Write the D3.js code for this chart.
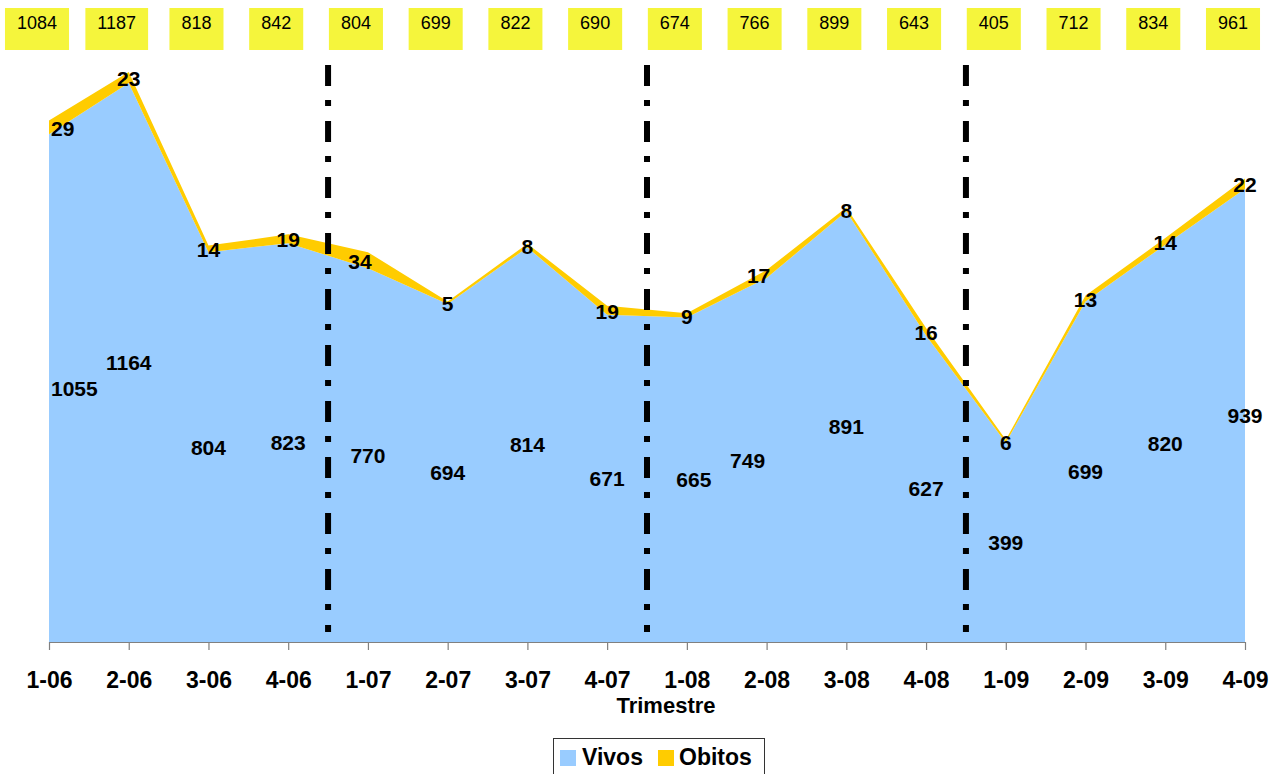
<!DOCTYPE html>
<html>
<head>
<meta charset="utf-8">
<script src="https://cdn.jsdelivr.net/npm/d3@7"></script>
<style>
  html, body { margin: 0; padding: 0; background: #fff; }
  svg { display: block; font-family: Arial, "Liberation Sans", sans-serif; }
</style>
</head>
<body>
<svg id="chart" width="1280" height="774"></svg>
<script>
// ---- data ----
const categories = ["1-06","2-06","3-06","4-06","1-07","2-07","3-07","4-07","1-08","2-08","3-08","4-08","1-09","2-09","3-09","4-09"];
const vivos  = [1055,1164,804,823,770,694,814,671,665,749,891,627,399,699,820,939];
const obitos = [29,23,14,19,34,5,8,19,9,17,8,16,6,13,14,22];
const totals = [1084,1187,818,842,804,699,822,690,674,766,899,643,405,712,834,961];
const seriesNames = ["Vivos","Obitos"];
const separatorsAfter = ["4-06","4-07","4-08"];
const axisTitle = "Trimestre";

// ---- layout ----
const W = 1280, H = 774;
const plotLeft = 49, plotRight = 1245, plotTop = 66, plotBottom = 642;
const colors = { Vivos: "#99CCFF", Obitos: "#FFCC00" };

const svg = d3.select("#chart");

const x = d3.scalePoint().domain(categories).range([plotLeft, plotRight]);
const y = d3.scaleLinear().domain([-25, 1200]).range([plotBottom, plotTop]);

const rows = categories.map((c, i) => ({ cat: c, Vivos: vivos[i], Obitos: obitos[i] }));
const stack = d3.stack().keys(seriesNames);
const series = stack(rows);

const area = d3.area()
  .x(d => x(d.data.cat))
  .y0(d => d[0] === 0 ? y.range()[0] : y(d[0]))
  .y1(d => y(d[1]));

svg.append("g").selectAll("path")
  .data(series)
  .join("path")
  .attr("d", area)
  .attr("fill", d => colors[d.key]);

// separator dash-dot lines
const step = x.step();
svg.append("g").selectAll("line")
  .data(separatorsAfter)
  .join("line")
  .attr("x1", d => x(d) + step / 2)
  .attr("x2", d => x(d) + step / 2)
  .attr("y1", plotTop - 1)
  .attr("y2", plotBottom - 10)
  .attr("stroke", "#000")
  .attr("stroke-width", 6)
  .attr("stroke-dasharray", "21,14,6,15");

// x axis
const axisG = svg.append("g").attr("transform", `translate(0,${plotBottom})`);
axisG.call(d3.axisBottom(x).tickSize(8).tickSizeOuter(0).tickPadding(22));
axisG.select(".domain").attr("stroke", "#808080").attr("stroke-width", 1.2);
axisG.selectAll(".tick line").attr("stroke", "#808080").attr("stroke-width", 1.2);
axisG.selectAll(".tick text")
  .attr("fill", "#000")
  .style("font-size", "23px")
  .style("font-weight", "bold")
  .style("font-family", "Arial, 'Liberation Sans', sans-serif");

svg.append("text")
  .attr("x", (plotLeft + plotRight) / 2 + 19)
  .attr("y", 705)
  .attr("text-anchor", "middle")
  .attr("dominant-baseline", "central")
  .style("font-size", "22px")
  .style("font-weight", "bold")
  .text(axisTitle);

// data labels
const nudgeVivos = { "1-08": 7, "2-08": -19 };
const nudgeObitos = { "1-07": -8, "2-08": -8 };
const labelG = svg.append("g")
  .style("font-size", "21px")
  .style("font-weight", "bold");

function placeLabel(txt, cx, cy, dx) {
  const t = labelG.append("text")
    .attr("text-anchor", "middle")
    .attr("dominant-baseline", "central")
    .attr("y", cy)
    .text(txt);
  let px = cx + (dx || 0);
  const w = t.node().getComputedTextLength();
  if (px - w / 2 < plotLeft + 2) px = plotLeft + 2 + w / 2;
  t.attr("x", px);
}

series[0].forEach((d, i) => {
  const cy = (y.range()[0] + y(d[1])) / 2;
  placeLabel(vivos[i], x(categories[i]), cy, nudgeVivos[categories[i]]);
});
series[1].forEach((d, i) => {
  const cy = (y(d[0]) + y(d[1])) / 2 + 1;
  placeLabel(obitos[i], x(categories[i]), cy, nudgeObitos[categories[i]]);
});

// top total boxes
const boxG = svg.append("g");
totals.forEach((v, i) => {
  const cx = x(categories[i]) - 12;
  const g = boxG.append("g");
  const rect = g.append("rect").attr("fill", "#F5F53C");
  const t = g.append("text")
    .attr("x", cx)
    .attr("y", 22.5)
    .attr("text-anchor", "middle")
    .attr("dominant-baseline", "central")
    .style("font-size", "18px")
    .text(v);
  const w = t.node().getComputedTextLength() + 24;
  rect.attr("x", cx - w / 2).attr("y", 8).attr("width", w).attr("height", 42);
});

// legend
const leg = svg.append("g");
leg.append("rect")
  .attr("x", 553.5).attr("y", 738.5).attr("width", 211).attr("height", 50)
  .attr("fill", "#fff").attr("stroke", "#333").attr("stroke-width", 1);
const legItems = [
  { key: "Vivos", sx: 560, tx: 582 },
  { key: "Obitos", sx: 658, tx: 679 }
];
legItems.forEach(it => {
  leg.append("rect").attr("x", it.sx).attr("y", 750).attr("width", 16).attr("height", 16)
    .attr("fill", colors[it.key]);
  leg.append("text").attr("x", it.tx).attr("y", 765)
    .style("font-size", "23px").style("font-weight", "bold")
    .text(it.key);
});
</script>
</body>
</html>
